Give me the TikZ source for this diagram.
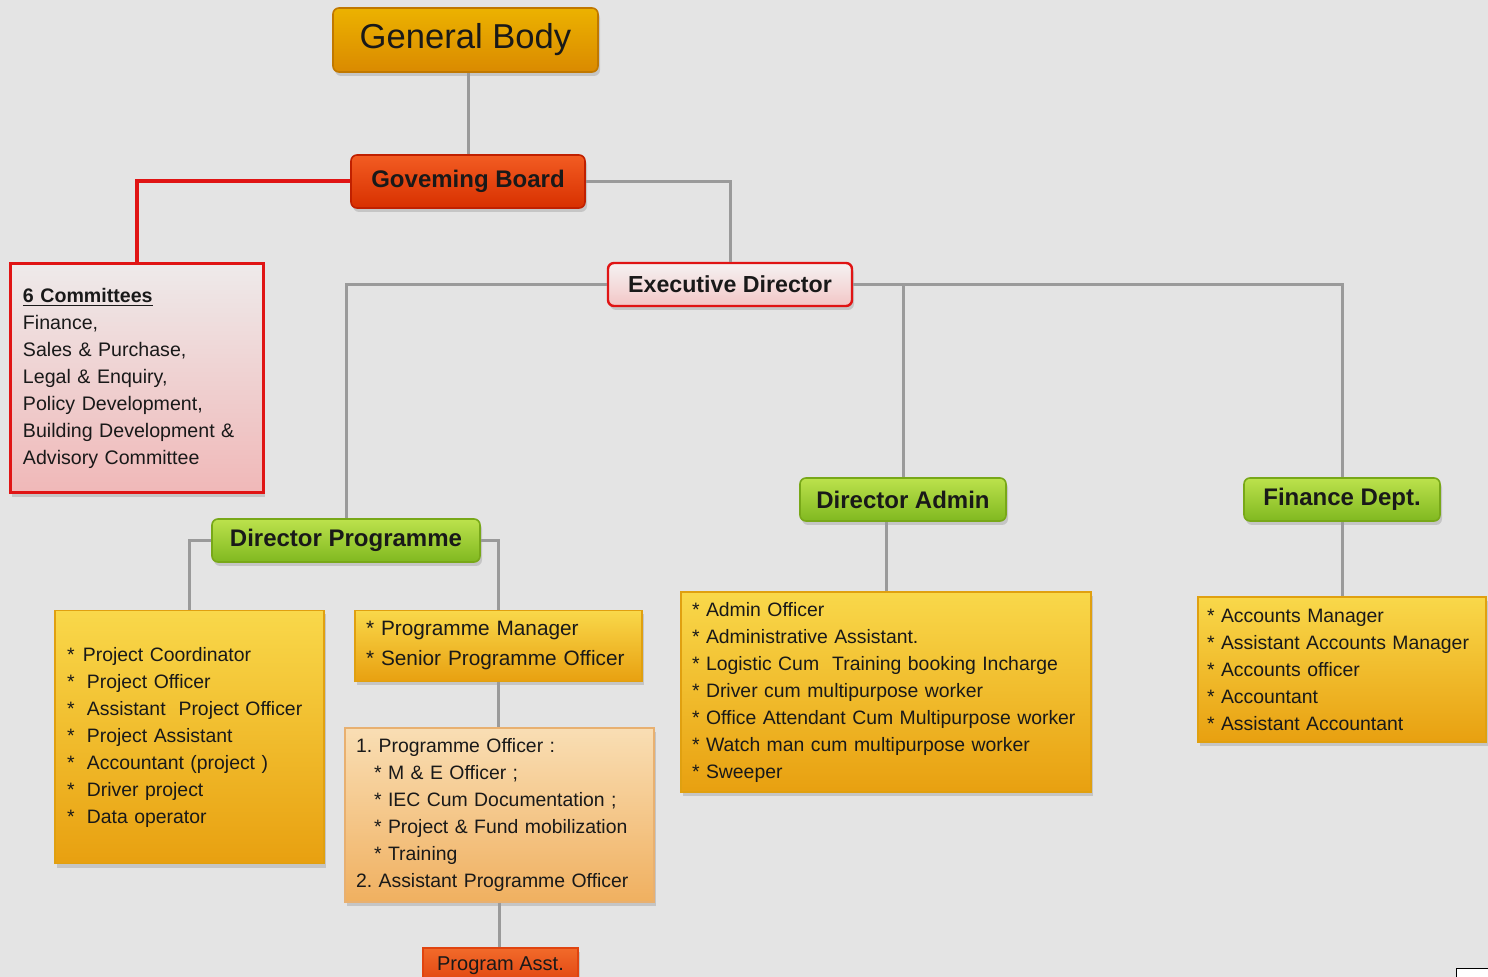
\documentclass[tikz,border=0pt]{standalone}
\usepackage{fontspec}
\setmainfont{Liberation Sans}
\usetikzlibrary{shadows}
\frenchspacing
\hyphenpenalty=10000

\definecolor{bggray}{HTML}{E4E4E4}
\definecolor{linkgray}{HTML}{9A9A9A}
\definecolor{linkred}{HTML}{E01414}
\definecolor{goldtop}{HTML}{ECB200}
\definecolor{goldbot}{HTML}{DA8A00}
\definecolor{goldline}{HTML}{C07800}
\definecolor{redtop}{HTML}{F25C22}
\definecolor{redbot}{HTML}{D83000}
\definecolor{redline}{HTML}{C02000}
\definecolor{pinktop}{HTML}{EEEAEA}
\definecolor{pinkbot}{HTML}{F0B8B8}
\definecolor{greentop}{HTML}{BCE24C}
\definecolor{greenbot}{HTML}{80B820}
\definecolor{greenline}{HTML}{78A818}
\definecolor{yeltop}{HTML}{F9D84A}
\definecolor{yelbot}{HTML}{E8A010}
\definecolor{yelline}{HTML}{E0A010}
\definecolor{peachtop}{HTML}{F9DEB4}
\definecolor{peachbot}{HTML}{F0B060}
\definecolor{peachline}{HTML}{E8B070}
\definecolor{asstop}{HTML}{F26A2A}
\definecolor{assbot}{HTML}{E04410}

\begin{document}
\begin{tikzpicture}[x=0.5pt, y=-0.5pt,
	box/.style={rectangle, draw, line width=0.8pt, inner sep=0pt, text=black!90,
		drop shadow={opacity=0.3, shadow xshift=1pt, shadow yshift=-2pt}},
	head/.style={box, rounded corners=3pt, font=\bfseries\fontsize{12}{14}\selectfont},
	greenhead/.style={head, draw=greenline, top color=greentop, bottom color=greenbot},
	listbox/.style={box, align=left, inner xsep=5.5pt, font=\fontsize{9.7}{13.5}\selectfont},
	yellist/.style={listbox, draw=yelline, top color=yeltop, bottom color=yelbot},
	link/.style={draw=linkgray, line width=1.5pt},
	redlink/.style={draw=linkred, line width=2pt}]
	\fill[bggray] (0,0) rectangle (1488,977);
	\clip (0,0) rectangle (1488,977);

	% top of the chart
	\node[head, draw=goldline, top color=goldtop, bottom color=goldbot, font=\fontsize{17.3}{20}\selectfont,
		minimum width=132.5pt, minimum height=32pt] (body) at (465.5,40) {General Body};
	\node[head, draw=redline, top color=redtop, bottom color=redbot,
		minimum width=117pt, minimum height=26.5pt] (board) at (468,181.5) {Goveming Board};
	\node[box, draw=linkred, line width=1.5pt, top color=pinktop, bottom color=pinkbot, align=left,
		inner xsep=6.5pt, font=\fontsize{9.8}{13.5}\selectfont, text width=113.5pt,
		minimum height=114.5pt] (committees) at (136.5,378.5)
		{\textbf{\underline{6 Committees}}\\ Finance,\\ Sales \& Purchase,\\ Legal \& Enquiry,\\
		 Policy Development,\\ Building Development \&\\ Advisory Committee};
	\node[head, draw=linkred, top color=pinktop!60!white, bottom color=pinkbot!80!white, line width=1.2pt,
		font=\bfseries\fontsize{11.6}{14}\selectfont,
		minimum width=122pt, minimum height=21.5pt] (exec) at (730,284.5) {Executive Director};

	% directors
	\node[greenhead, minimum width=134pt, minimum height=21.5pt] (dprog) at (346,540.5) {Director Programme};
	\node[greenhead, minimum width=103pt, minimum height=21.5pt] (dadmin) at (903,499.5) {Director Admin};
	\node[greenhead, minimum width=98pt, minimum height=21.5pt] (finance) at (1342,499.5) {Finance Dept.};

	% staff lists
	\node[yellist, inner xsep=6pt, text width=122.5pt, minimum height=126.5pt] (project) at (189.5,737)
		{{*}\hspace{4.2pt}Project Coordinator\\ {*}\hspace{6.2pt}Project Officer\\ {*}\hspace{6.2pt}Assistant\ \ Project Officer\\
		 {*}\hspace{6.2pt}Project Assistant\\ {*}\hspace{6.2pt}Accountant (project )\\ {*}\hspace{6.2pt}Driver project\\ {*}\hspace{6.2pt}Data operator};
	\node[yellist, font=\fontsize{10.4}{15}\selectfont, text width=132.5pt, minimum height=35.5pt] (manager) at (498.5,646)
		{{*} Programme Manager\\ {*} Senior Programme Officer};
	\node[listbox, draw=peachline, top color=peachtop, bottom color=peachbot,
		text width=143.5pt, minimum height=87pt] (officer) at (499.5,815)
		{1. Programme Officer :\\ \hspace*{9pt}{*} M \& E Officer ;\\ \hspace*{9pt}{*} IEC Cum Documentation ;\\
		 \hspace*{9pt}{*} Project \& Fund mobilization\\ \hspace*{9pt}{*} Training\\ 2. Assistant Programme Officer};
	\node[box, draw=assbot, top color=asstop, bottom color=assbot, font=\fontsize{10}{12}\selectfont,
		minimum width=77.5pt, minimum height=18pt] (asst) at (500.5,966) {Program Asst.};
	\node[yellist, text width=194pt, minimum height=100pt] (admin) at (886,692)
		{{*} Admin Officer\\ {*} Administrative Assistant.\\ {*} Logistic Cum\ \ Training booking Incharge\\
		 {*} Driver cum multipurpose worker\\ {*} Office Attendant Cum Multipurpose worker\\
		 {*} Watch man cum multipurpose worker\\ {*} Sweeper};
	\node[yellist, inner xsep=4.5pt, text width=135pt, minimum height=72.5pt] (accounts) at (1342,669.5)
		{{*} Accounts Manager\\ {*} Assistant Accounts Manager\\ {*} Accounts officer\\ {*} Accountant\\ {*} Assistant Accountant};

	% connectors
	\draw[link] (board.north) -- (board.north |- body.south);
	\draw[redlink] (board.west) -| (committees.north);
	\draw[link] (board.east) -| (exec.north);
	\draw[link] (exec.west) -| (dprog.north);
	\draw[link] (exec.east) -| (finance.north);
	\draw[link] (dadmin.north) -- (dadmin.north |- exec.east);
	\draw[link] (dprog.west) -| (project.north);
	\draw[link] (dprog.east) -| (manager.north);
	\draw[link] (manager.south) -- (officer.north -| manager.south);
	\draw[link] (officer.south) -- (asst.north -| officer.south);
	\draw[link] (admin.north) -- (admin.north |- dadmin.south);
	\draw[link] (finance.south) -- (accounts.north);

	% corner mark
	\draw[fill=white, line width=0.5pt] (1456,968) rectangle (1492,982);
\end{tikzpicture}
\end{document}
